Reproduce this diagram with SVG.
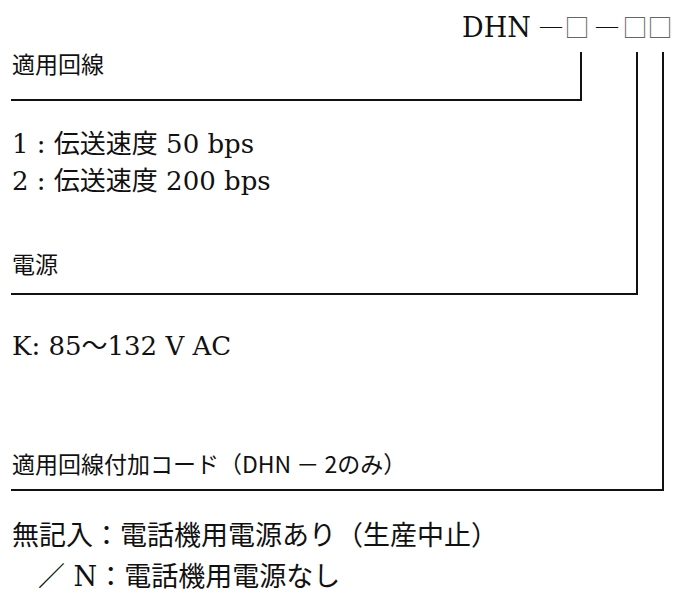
<svg xmlns="http://www.w3.org/2000/svg" width="675" height="597" viewBox="0 0 675 597">
<style>
.lbl{font-family:"Noto Sans CJK JP","Noto Sans",sans-serif;font-size:23px;fill:#111}
.opt{font-family:"DejaVu Serif","Noto Sans CJK JP",serif;font-size:26px;fill:#111}
.note{font-family:"DejaVu Serif","Noto Sans CJK JP",serif;font-size:27px;fill:#111}
.code{font-family:"DejaVu Serif","Noto Sans CJK JP",serif;font-size:27px;fill:#111}
.dash{font-family:"Liberation Serif",serif;font-size:22px;fill:#111;text-anchor:middle}
.box{font-family:"Noto Sans CJK JP",sans-serif;font-size:25px;fill:#666}
.ln{fill:none;stroke:#111;stroke-width:2}
</style>
<rect width="675" height="597" fill="#fff"/>
<g id="model-code">
<text class="code" x="462" y="37">DHN</text>
<text class="dash" x="551" y="32.5">—</text>
<text class="box" x="564.5" y="37">□</text>
<text class="dash" x="607" y="32.5">—</text>
<text class="box" x="622.5" y="37">□□</text>
</g>
<g id="line-type">
<text class="lbl" x="12" y="73">適用回線</text>
<text class="opt" x="12" y="153">1 : 伝送速度 50 bps</text>
<text class="opt" x="12" y="190">2 : 伝送速度 200 bps</text>
</g>
<g id="power">
<text class="lbl" x="12" y="273">電源</text>
<text class="opt" x="12" y="355" font-size="25">K: 85〜132 V AC</text>
</g>
<g id="line-code">
<text class="lbl" x="12" y="473">適用回線付加コード（DHN － 2のみ）</text>
<text class="note" x="12" y="545">無記入：電話機用電源あり（生産中止）</text>
<text class="note" x="38" y="586">／ N：電話機用電源なし</text>
</g>
<g id="connectors">
<path class="ln" d="M11,100 H581 V52"/>
<path class="ln" d="M11,294 H637 V52"/>
<path class="ln" d="M11,490 H663 V52"/>
</g>
</svg>
